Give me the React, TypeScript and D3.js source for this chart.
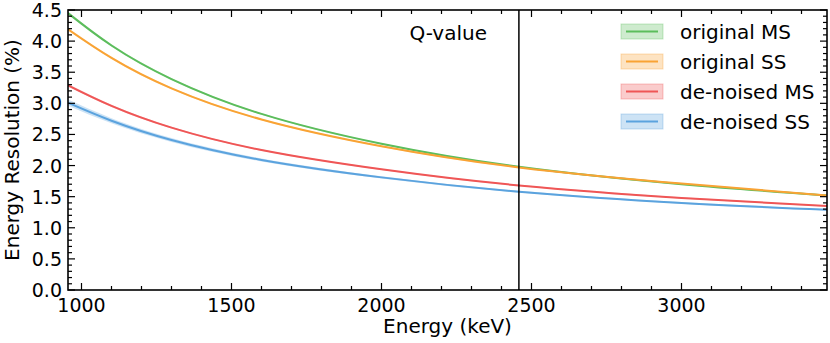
import React from 'react';
import * as d3 from 'd3';

const width = 830;
const height = 343;
const margin = {top: 10, right: 3, bottom: 53, left: 68};
const font = 'DejaVu Sans, sans-serif';

// energies (keV) where the curves were read
const energy = [955, 1100, 1300, 1600, 2000, 2458, 3000, 3485];

const originalMS = [4.45, 3.93, 3.39, 2.83, 2.35, 1.98, 1.70, 1.52];
const originalSS = [4.19, 3.73, 3.24, 2.74, 2.31, 1.97, 1.71, 1.52];
const denoisedMS = [3.29, 2.96, 2.61, 2.25, 1.94, 1.68, 1.48, 1.35];
const denoisedSS = [3.01, 2.72, 2.41, 2.09, 1.81, 1.58, 1.40, 1.29];

// half-width of the shaded uncertainty bands
const errMS = [0.02, 0.018, 0.015, 0.012, 0.01, 0.01, 0.01, 0.01];
const errSS = [0.02, 0.018, 0.015, 0.012, 0.01, 0.01, 0.01, 0.01];
const errDnMS = [0.02, 0.018, 0.015, 0.012, 0.01, 0.01, 0.01, 0.01];
const errDnSS = [0.05, 0.042, 0.032, 0.024, 0.018, 0.015, 0.013, 0.012];

const seriesNames = ['original MS', 'original SS', 'de-noised MS', 'de-noised SS'];
const seriesColors = ['#5cbd5c', '#f9a334', '#ef5656', '#5ba3de'];
const seriesValues = [originalMS, originalSS, denoisedMS, denoisedSS];
const seriesErrors = [errMS, errSS, errDnMS, errDnSS];

const xMajor = [1000, 1500, 2000, 2500, 3000];
const yMajor = [0, 0.5, 1, 1.5, 2, 2.5, 3, 3.5, 4, 4.5];
const qValue = 2458;

const xScale = d3.scaleLinear().domain([955, 3485]).range([margin.left, width - margin.right]);
const yScale = d3.scaleLinear().domain([0, 4.5]).range([height - margin.bottom, margin.top]);

export default function App() {
    const x0 = margin.left;
    const x1 = width - margin.right;
    const y0 = height - margin.bottom;
    const y1 = margin.top;

    const xMinor = d3.range(1000, 3485, 100).filter(v => v % 500 !== 0);
    const yMinor = d3.range(0, 4.5, 0.1).filter(v => Math.abs(v * 2 - Math.round(v * 2)) > 0.01);

    const line = d3.line<number>()
        .x((d, i) => xScale(energy[i]))
        .y(d => yScale(d))
        .curve(d3.curveNatural);

    const band = (vals: number[], errs: number[]) => d3.area<number>()
        .x((d, i) => xScale(energy[i]))
        .y0((d, i) => yScale(vals[i] - errs[i]))
        .y1((d, i) => yScale(vals[i] + errs[i]))
        .curve(d3.curveNatural)(vals);

    const majorLen = 7;
    const minorLen = 4;
    const tw = 1.2;

    return (
        <svg width={width} height={height} style={{position: 'absolute', left: 0, top: 0, background: '#fff'}}
             fontFamily={font}>
            <defs>
                <clipPath id="plot">
                    <rect x={x0} y={y1} width={x1 - x0} height={y0 - y1}/>
                </clipPath>
            </defs>
            <g clipPath="url(#plot)">
                {seriesValues.map((vals, i) =>
                    <path key={'b' + i} d={band(vals, seriesErrors[i]) || ''} fill={seriesColors[i]} fillOpacity={0.3}/>
                )}
                {seriesValues.map((vals, i) =>
                    <path key={'l' + i} d={line(vals) || ''} fill="none" stroke={seriesColors[i]} strokeWidth={2}/>
                )}
            </g>
            {/* Q-value marker */}
            <line x1={xScale(qValue)} x2={xScale(qValue)} y1={y1} y2={y0} stroke="#000" strokeWidth={1.5}/>
            <text x={487} y={40} fontSize={20} textAnchor="end">Q-value</text>

            {/* ticks, all pointing inwards on four sides */}
            {xMajor.map(v => <g key={'xm' + v}>
                <line x1={xScale(v)} x2={xScale(v)} y1={y0} y2={y0 - majorLen} stroke="#000" strokeWidth={tw}/>
                <line x1={xScale(v)} x2={xScale(v)} y1={y1} y2={y1 + majorLen} stroke="#000" strokeWidth={tw}/>
                <text x={xScale(v)} y={y0 + 22} fontSize={19} textAnchor="middle">{v}</text>
            </g>)}
            {xMinor.map(v => <g key={'xn' + v}>
                <line x1={xScale(v)} x2={xScale(v)} y1={y0} y2={y0 - minorLen} stroke="#000" strokeWidth={tw}/>
                <line x1={xScale(v)} x2={xScale(v)} y1={y1} y2={y1 + minorLen} stroke="#000" strokeWidth={tw}/>
            </g>)}
            {yMajor.map(v => <g key={'ym' + v}>
                <line x1={x0} x2={x0 + majorLen} y1={yScale(v)} y2={yScale(v)} stroke="#000" strokeWidth={tw}/>
                <line x1={x1} x2={x1 - majorLen} y1={yScale(v)} y2={yScale(v)} stroke="#000" strokeWidth={tw}/>
                <text x={x0 - 6} y={yScale(v) + 7} fontSize={19} textAnchor="end">{v.toFixed(1)}</text>
            </g>)}
            {yMinor.map(v => <g key={'yn' + v.toFixed(1)}>
                <line x1={x0} x2={x0 + minorLen} y1={yScale(v)} y2={yScale(v)} stroke="#000" strokeWidth={tw}/>
                <line x1={x1} x2={x1 - minorLen} y1={yScale(v)} y2={yScale(v)} stroke="#000" strokeWidth={tw}/>
            </g>)}

            {/* frame */}
            <rect x={x0} y={y1} width={x1 - x0} height={y0 - y1} fill="none" stroke="#000" strokeWidth={1.6}/>

            {/* axis titles */}
            <text x={(x0 + x1) / 2} y={333} fontSize={20} textAnchor="middle">Energy (keV)</text>
            <text transform={`translate(19, ${(y0 + y1) / 2}) rotate(-90)`} fontSize={20} textAnchor="middle">Energy Resolution (%)</text>

            {/* legend */}
            {seriesNames.map((name, i) => {
                const cy = 31.5 + i * 30;
                return <g key={'lg' + i}>
                    <rect x={621} y={cy - 7.5} width={42} height={15} fill={seriesColors[i]} fillOpacity={0.3}
                          stroke={seriesColors[i]} strokeOpacity={0.35}/>
                    <line x1={626} x2={658} y1={cy} y2={cy} stroke={seriesColors[i]} strokeWidth={2}/>
                    <text x={680} y={cy + 7} fontSize={20}>{name}</text>
                </g>;
            })}
        </svg>
    );
}
